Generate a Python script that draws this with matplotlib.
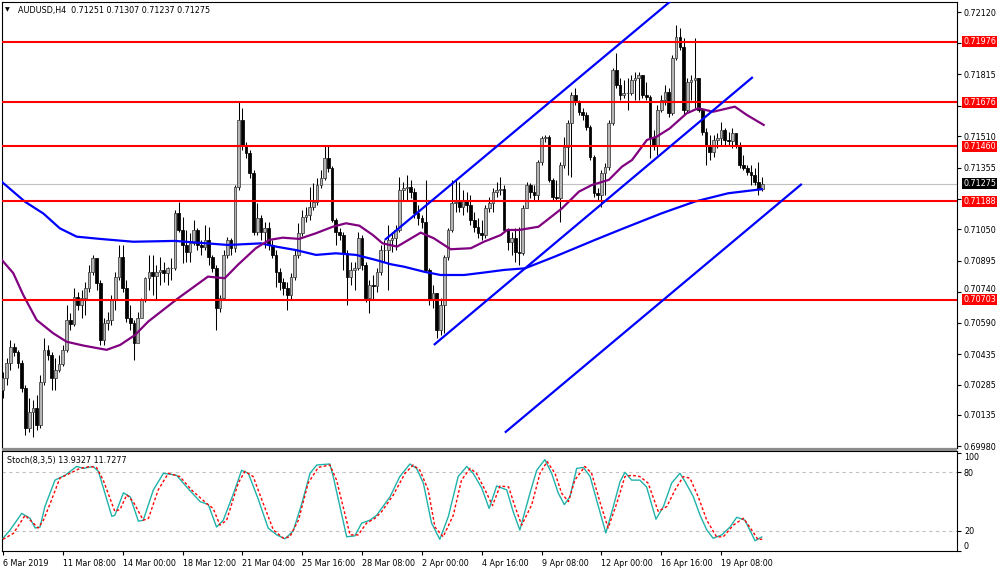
import matplotlib
matplotlib.use("Agg")
import matplotlib.pyplot as plt
from matplotlib.patches import Rectangle
import numpy as np

# AUDUSD H4 candles (bar 0 = 6 Mar 2019 00:00)
first_open = 0.70258
close = [
    0.70318, 0.70391, 0.70470, 0.70446, 0.70391, 0.70269, 0.70071, 0.70150, 0.70170, 0.70085,
    0.70298, 0.70456, 0.70431, 0.70318, 0.70357, 0.70386, 0.70456, 0.70603, 0.70583, 0.70716,
    0.70677, 0.70712, 0.70762, 0.70840, 0.70909, 0.70786, 0.70505, 0.70588, 0.70603, 0.70702,
    0.70815, 0.70913, 0.70762, 0.70614, 0.70588, 0.70490, 0.70614, 0.70702, 0.70811, 0.70840,
    0.70820, 0.70840, 0.70850, 0.70835, 0.70860, 0.70860, 0.71131, 0.71047, 0.70973, 0.70938,
    0.70983, 0.71047, 0.70973, 0.70963, 0.70998, 0.70913, 0.70860, 0.70663, 0.70712, 0.70923,
    0.70998, 0.70959, 0.71259, 0.71589, 0.71466, 0.71427, 0.71328, 0.71037, 0.71107, 0.71037,
    0.71057, 0.70973, 0.70923, 0.70840, 0.70791, 0.70762, 0.70726, 0.70815, 0.70923, 0.71032,
    0.71111, 0.71121, 0.71160, 0.71185, 0.71269, 0.71304, 0.71403, 0.71353, 0.71096, 0.71037,
    0.71022, 0.70933, 0.70815, 0.70850, 0.70860, 0.71008, 0.70874, 0.70712, 0.70776, 0.70771,
    0.70840, 0.70948, 0.70948, 0.70998, 0.71008, 0.71047, 0.71244, 0.71255, 0.71259, 0.71234,
    0.71131, 0.71107, 0.71086, 0.70850, 0.70702, 0.70736, 0.70554, 0.70677, 0.70913, 0.71047,
    0.71180, 0.71185, 0.71160, 0.71195, 0.71170, 0.71096, 0.71061, 0.71032, 0.71022, 0.71156,
    0.71180, 0.71234, 0.71244, 0.71250, 0.71047, 0.70988, 0.71008, 0.70938, 0.70933, 0.71156,
    0.71269, 0.71234, 0.71219, 0.71382, 0.71501, 0.71506, 0.71294, 0.71209, 0.71204, 0.71367,
    0.71456, 0.71574, 0.71712, 0.71678, 0.71629, 0.71614, 0.71554, 0.71407, 0.71229, 0.71219,
    0.71328, 0.71357, 0.71574, 0.71836, 0.71762, 0.71712, 0.71722, 0.71722, 0.71787, 0.71797,
    0.71811, 0.71712, 0.71702, 0.71501, 0.71466, 0.71639, 0.71688, 0.71727, 0.71624, 0.71896,
    0.71998, 0.71949, 0.71639, 0.71777, 0.71787, 0.71797, 0.71639, 0.71530, 0.71466, 0.71432,
    0.71491, 0.71501, 0.71540, 0.71491, 0.71486, 0.71525, 0.71466, 0.71367, 0.71353, 0.71333,
    0.71318, 0.71284, 0.71251, 0.71275]
high = [
    0.70347, 0.70417, 0.70505, 0.70490, 0.70456, 0.70406, 0.70283, 0.70219, 0.70209, 0.70233,
    0.70332, 0.70515, 0.70480, 0.70446, 0.70417, 0.70431, 0.70480, 0.70677, 0.70638, 0.70762,
    0.70741, 0.70751, 0.70791, 0.70874, 0.70923, 0.70909, 0.70801, 0.70614, 0.70643, 0.70726,
    0.70840, 0.70973, 0.70973, 0.70801, 0.70677, 0.70603, 0.70643, 0.70712, 0.70815, 0.70923,
    0.70923, 0.70874, 0.70913, 0.70889, 0.70864, 0.70909, 0.71146, 0.71185, 0.71111, 0.71047,
    0.71032, 0.71096, 0.71057, 0.70998, 0.71071, 0.71061, 0.70923, 0.70874, 0.70726, 0.70948,
    0.71012, 0.71008, 0.71269, 0.71678, 0.71649, 0.71481, 0.71442, 0.71343, 0.71180, 0.71121,
    0.71086, 0.71086, 0.70998, 0.70948, 0.70860, 0.70811, 0.70791, 0.70835, 0.70948, 0.71081,
    0.71146, 0.71160, 0.71259, 0.71279, 0.71304, 0.71343, 0.71466, 0.71466, 0.71362, 0.71107,
    0.71057, 0.71037, 0.70948, 0.70889, 0.70889, 0.71037, 0.71022, 0.70889, 0.70801, 0.70825,
    0.70860, 0.70973, 0.70998, 0.71071, 0.71037, 0.71071, 0.71308, 0.71284, 0.71318, 0.71294,
    0.71255, 0.71170, 0.71121, 0.71294, 0.70860, 0.70776, 0.70736, 0.70712, 0.70923, 0.71057,
    0.71294, 0.71294, 0.71284, 0.71244, 0.71234, 0.71219, 0.71136, 0.71107, 0.71096, 0.71170,
    0.71209, 0.71255, 0.71284, 0.71308, 0.71269, 0.71057, 0.71037, 0.71057, 0.71061, 0.71170,
    0.71284, 0.71279, 0.71269, 0.71392, 0.71511, 0.71516, 0.71516, 0.71304, 0.71294, 0.71382,
    0.71506, 0.71589, 0.71727, 0.71748, 0.71688, 0.71649, 0.71629, 0.71564, 0.71417, 0.71254,
    0.71343, 0.71377, 0.71589, 0.71846, 0.71920, 0.71797, 0.71787, 0.71797, 0.71811, 0.71826,
    0.71826, 0.71811, 0.71777, 0.71712, 0.71540, 0.71663, 0.71712, 0.71762, 0.71748, 0.71910,
    0.72057, 0.72042, 0.71994, 0.71797, 0.71811, 0.71994, 0.71787, 0.71649, 0.71550, 0.71516,
    0.71516, 0.71525, 0.71579, 0.71550, 0.71530, 0.71550, 0.71516, 0.71481, 0.71417, 0.71367,
    0.71367, 0.71353, 0.71382, 0.71307]
low = [
    0.70219, 0.70283, 0.70357, 0.70426, 0.70367, 0.70248, 0.70036, 0.70051, 0.70026, 0.70061,
    0.70071, 0.70283, 0.70406, 0.70258, 0.70258, 0.70347, 0.70377, 0.70446, 0.70554, 0.70574,
    0.70653, 0.70614, 0.70628, 0.70741, 0.70825, 0.70751, 0.70480, 0.70480, 0.70554, 0.70578,
    0.70653, 0.70801, 0.70741, 0.70593, 0.70554, 0.70406, 0.70578, 0.70643, 0.70692, 0.70751,
    0.70726, 0.70702, 0.70776, 0.70791, 0.70776, 0.70801, 0.70850, 0.71037, 0.70884, 0.70889,
    0.70889, 0.70973, 0.70948, 0.70923, 0.70948, 0.70874, 0.70840, 0.70554, 0.70643, 0.70702,
    0.70909, 0.70923, 0.70938, 0.71244, 0.71442, 0.71402, 0.71304, 0.71022, 0.71022, 0.70998,
    0.70959, 0.70948, 0.70909, 0.70766, 0.70751, 0.70726, 0.70653, 0.70702, 0.70801, 0.70909,
    0.71017, 0.71086, 0.71096, 0.71146, 0.71170, 0.71254, 0.71294, 0.71333, 0.71086, 0.70973,
    0.70998, 0.70850, 0.70677, 0.70776, 0.70751, 0.70850, 0.70850, 0.70692, 0.70638, 0.70702,
    0.70741, 0.70825, 0.70889, 0.70751, 0.70938, 0.70948, 0.71037, 0.71195, 0.71195, 0.71204,
    0.71107, 0.71071, 0.71057, 0.70840, 0.70677, 0.70663, 0.70515, 0.70529, 0.70539, 0.70899,
    0.71037, 0.71136, 0.71136, 0.71121, 0.71136, 0.71071, 0.71037, 0.71008, 0.70998, 0.71008,
    0.71136, 0.71136, 0.71209, 0.71219, 0.71037, 0.70948, 0.70923, 0.70889, 0.70874, 0.70923,
    0.71156, 0.71204, 0.71195, 0.71195, 0.71367, 0.71481, 0.71284, 0.71195, 0.71195, 0.71086,
    0.71353, 0.71318, 0.71308, 0.71663, 0.71614, 0.71589, 0.71540, 0.71392, 0.71209, 0.71195,
    0.71160, 0.71219, 0.71343, 0.71564, 0.71748, 0.71688, 0.71698, 0.71639, 0.71712, 0.71688,
    0.71688, 0.71698, 0.71688, 0.71402, 0.71442, 0.71417, 0.71629, 0.71663, 0.71604, 0.71614,
    0.71885, 0.71935, 0.71614, 0.71629, 0.71688, 0.71649, 0.71629, 0.71516, 0.71367, 0.71392,
    0.71407, 0.71451, 0.71466, 0.71466, 0.71461, 0.71451, 0.71451, 0.71353, 0.71343, 0.71318,
    0.71269, 0.71269, 0.71219, 0.71237]

# moving averages (purple = fast, blue = slow), sampled at bar positions
purple_bar = [-0.3, 2.75, 5.4, 9.0, 13.4, 17.0, 21.5, 27.7, 31.3, 35.3,
              38.8, 46.8, 54.8, 59.3, 62.8, 67.6, 71.2, 74.8, 79.2, 83.7,
              88.2, 91.7, 95.3, 98.9, 101.5, 105.4, 111.7, 115.2, 119.7, 125.1,
              128.6, 133.1, 134.8, 138.0, 143.2, 149.5, 154.0, 157.5, 162.0, 165.5,
              168.2, 172.2, 174.8, 178.3, 182.8, 185.9, 189.9, 195.7, 198.9, 203.4]
purple_val = [0.70899, 0.70834, 0.70727, 0.70603, 0.70538, 0.70496, 0.70477, 0.70456, 0.70480, 0.70529,
              0.70595, 0.70710, 0.70817, 0.70809, 0.70875, 0.70957, 0.70998, 0.71009, 0.71003, 0.71031,
              0.71063, 0.71080, 0.71068, 0.71022, 0.70981, 0.70965, 0.71034, 0.71006, 0.70952, 0.70957,
              0.70989, 0.71022, 0.71047, 0.71047, 0.71063, 0.71154, 0.71236, 0.71269, 0.71294, 0.71359,
              0.71392, 0.71491, 0.71507, 0.71548, 0.71622, 0.71647, 0.71630, 0.71655, 0.71614, 0.71565]
blue_bar = [-0.3, 5.9, 10.8, 15.2, 19.7, 25.9, 34.8, 46.0, 60.2, 69.0,
            73.0, 78.3, 83.7, 89.0, 94.4, 99.7, 103.7, 107.2, 112.6, 117.0,
            123.3, 128.6, 134.0, 139.6, 147.6, 158.3, 165.4, 176.1, 185.0, 193.9, 202.9]
blue_val = [0.71284, 0.71186, 0.71128, 0.71055, 0.71014, 0.71003, 0.70989, 0.70993, 0.70973, 0.70981,
            0.70965, 0.70948, 0.70924, 0.70932, 0.70924, 0.70899, 0.70878, 0.70866, 0.70841, 0.70825,
            0.70825, 0.70837, 0.70850, 0.70858, 0.70916, 0.70998, 0.71051, 0.71129, 0.71187, 0.71228, 0.71248]

# channel lines (bar, price) end points
channel_lines = [
    ([102.1, 178.9], [0.70998, 0.72181]),
    ([115.2, 200.5], [0.70480, 0.71801]),
    ([134.2, 213.6], [0.70048, 0.71274]),
]
red_levels = [0.71976, 0.71676, 0.71460, 0.71188, 0.70703]
last_price = 0.71275

# price scale; the three levels hidden behind the red labels keep their tick but no text
price_ticks = [0.72120, 0.71970, 0.71815, 0.71660, 0.71510, 0.71355, 0.71200, 0.71050,
               0.70895, 0.70740, 0.70590, 0.70435, 0.70285, 0.70135, 0.69980]
hidden_ticks = [0.71970, 0.71660, 0.71200]

# Stochastic (8,3,5): %K main and %D signal
k_bar = [0, 1.9, 5.0, 7.2, 8.6, 9.9, 11.2, 13.9, 16.6, 19.7,
         21.5, 24.1, 25.5, 29.1, 29.9, 32.2, 34.0, 36.2, 37.5, 40.2,
         42.9, 46.4, 49.1, 52.7, 54.9, 57.1, 58.9, 61.6, 63.8, 65.6,
         68.3, 70.9, 73.2, 75.4, 77.6, 79.9, 82.1, 83.9, 87.4, 88.3,
         91.9, 94.1, 95.9, 98.1, 99.9, 103.5, 106.1, 108.8, 110.6, 112.4,
         114.6, 116.8, 119.1, 121.7, 124.0, 125.7, 128.0, 130.0, 132.0,
         134.7, 136.4, 138.2, 140.9, 142.7, 144.9, 146.7, 148.5, 150.1, 151.6,
         153.4, 155.2, 157.0, 158.7, 161.2, 163.2, 165.0, 166.3, 168.1, 170.3,
         172.1, 174.6, 176.6, 178.8, 181.0, 182.4, 184.6, 186.4, 188.2, 189.9,
         192.2, 194.4, 196.2, 198.4, 201.1, 202.9]
k_val = [12.5, 21, 38, 33, 23, 24, 45, 72, 77, 86,
         84, 86, 81, 35, 36, 59, 55, 30, 31, 62,
         79, 77, 65, 50, 47, 24, 31, 58, 82, 79,
         52, 23, 16, 12, 20, 48, 79, 87.5, 88.5, 75.6,
         14, 15, 28, 31, 36, 55, 75.6, 88.5, 84, 69,
         28, 11.5, 35, 75.6, 86, 79, 64, 43, 66,
         62, 40, 21, 58.5, 82, 93, 79, 58.5, 47, 55,
         84, 85, 75.6, 52, 18, 45, 70.5, 80, 72, 72,
         65, 32, 45, 69, 79, 70.5, 55, 36, 21, 12.5,
         16, 24, 34, 31, 10, 13.9]
d_bar = [0, 2.8, 5.9, 8.1, 9.4, 10.8, 12.6, 15.2, 17.9, 20.6,
         23.3, 25.0, 26.8, 29.9, 31.3, 33.1, 34.8, 37.5, 38.9, 41.5,
         44.2, 47.3, 50.4, 54.5, 56.2, 58.0, 59.8, 62.9, 64.7, 66.9,
         69.6, 72.3, 75.0, 76.7, 79.0, 81.6, 84.3, 87.4, 89.2, 92.8,
         95.0, 97.2, 99.5, 101.3, 104.4, 107.5, 109.7, 111.5, 113.7, 115.5,
         117.7, 120.4, 122.6, 124.9, 126.6, 128.9, 130.9, 132.9, 135.2, 136.9,
         138.7, 141.4, 143.6, 145.5, 147.6, 149.4, 151.2, 152.9, 155.6, 157.4,
         159.6, 161.8, 164.1, 166.3, 168.1, 170.3, 172.5, 175.2, 177.5, 179.7,
         181.9, 183.7, 185.9, 188.2, 190.8, 192.6, 195.3, 198.0, 200.2, 201.9, 203.0]
d_val = [11.5, 17.6, 36, 28, 23, 31, 48, 74, 79, 84,
         86, 85, 72, 40, 42, 57, 50, 31, 33, 62,
         79, 75.6, 62, 48, 43, 26, 31, 69, 81, 75.6,
         48, 21, 12.5, 14, 31, 69, 85, 87.5, 72, 16,
         16, 28, 33, 40, 57, 79, 87.5, 82, 62, 24,
         14, 36, 72, 84, 79, 62, 46, 66, 65, 45,
         26, 47, 79, 91, 79, 58.5, 50, 72, 86, 79,
         50, 23, 48, 75.6, 77, 75.6, 69, 40, 45, 62,
         75.6, 74, 55, 31, 14, 14, 26, 33, 21, 11, 11.7]

time_ticks = [0, 16, 32, 48, 64, 80, 96, 112, 128, 144, 160, 176, 192]
time_labels = ["6 Mar 2019", "11 Mar 08:00", "14 Mar 00:00", "18 Mar 12:00", "21 Mar 04:00",
               "25 Mar 16:00", "28 Mar 08:00", "2 Apr 00:00", "4 Apr 16:00", "9 Apr 08:00",
               "12 Apr 00:00", "16 Apr 16:00", "19 Apr 08:00"]

FS = 5.8
W, H = 1000, 571


def px_box(l, t, r, b):
    return [l / W, 1 - b / H, (r - l) / W, (b - t) / H]


fig = plt.figure(figsize=(W / 100, H / 100), dpi=100)
fig.patch.set_facecolor("white")
ax = fig.add_axes(px_box(2, 2, 957, 448))
axs = fig.add_axes(px_box(2, 451, 957, 551), sharex=ax)

# --- candles
close = np.array(close)
high = np.array(high)
low = np.array(low)
opens = np.r_[first_open, close[:-1]]
idx = np.arange(len(close))
up = close >= opens
bottom = np.minimum(opens, close)
height = np.maximum(np.abs(close - opens), 0.000015)

ax.vlines(idx, low, high, color="black", lw=0.75, zorder=3)
ax.bar(idx[up], height[up], bottom=bottom[up], width=0.72, color="#b4b4b4",
       edgecolor="#3c3c3c", linewidth=0.55, zorder=4)
ax.bar(idx[~up], height[~up], bottom=bottom[~up], width=0.72, color="black",
       edgecolor="black", linewidth=0.55, zorder=4)

# indicators and objects
ax.axhline(last_price, color="#c0c0c0", lw=0.8, zorder=1)
ax.plot(blue_bar, blue_val, color="#0000ff", lw=1.6, zorder=5)
ax.plot(purple_bar, purple_val, color="#800080", lw=1.6, zorder=5)
for lv in red_levels:
    ax.axhline(lv, color="#ff0000", lw=1.5, zorder=6)
for xs, ys in channel_lines:
    ax.plot(xs, ys, color="#0000ff", lw=1.6, zorder=6, solid_capstyle="butt")

ax.set_xlim(-0.27, 255.1)
ax.set_ylim(0.69972, 0.72171)
ax.yaxis.tick_right()
ax.set_yticks(price_ticks)
plabs = ax.set_yticklabels(["" if p in hidden_ticks else f"{p:.5f}" for p in price_ticks],
                           fontsize=FS)
# 0.70740 sits just above the 0.70703 label: lift it onto its baseline
plabs[price_ticks.index(0.70740)].set_va("baseline")
ax.tick_params(axis="y", length=3, width=0.8, pad=2)
ax.tick_params(axis="x", bottom=False, labelbottom=False)

ytrans = ax.get_yaxis_transform()
for lv in red_levels:
    ax.text(1.0063, lv, f"{lv:.5f}", transform=ytrans, fontsize=FS, color="white",
            ha="left", va="center", zorder=10, clip_on=False,
            bbox=dict(boxstyle="square,pad=0.12", fc="#ff0000", ec="none"))
ax.text(1.0063, last_price, f"{last_price:.5f}", transform=ytrans, fontsize=FS,
        color="white", ha="left", va="center", zorder=10, clip_on=False,
        bbox=dict(boxstyle="square,pad=0.12", fc="black", ec="none"))

# --- stochastic panel
axs.axhline(80, color="#c0c0c0", lw=0.8, ls=(0, (3, 3)), zorder=1)
axs.axhline(20, color="#c0c0c0", lw=0.8, ls=(0, (3, 3)), zorder=1)
axs.plot(k_bar, k_val, color="#20b2aa", lw=1.0, zorder=3)
axs.plot(d_bar, d_val, color="#ff0000", lw=1.0, ls=(0, (2, 1.6)), zorder=4)
axs.set_ylim(-0.5, 101.8)
axs.yaxis.tick_right()
axs.set_yticks([0, 20, 80, 100])
labs = axs.set_yticklabels(["0", "20", "80", "100"], fontsize=FS)
labs[0].set_va("bottom")
labs[3].set_va("top")
axs.tick_params(axis="y", length=3, width=0.8, pad=2)
axs.set_xticks(time_ticks)
axs.set_xticklabels(time_labels, fontsize=FS, ha="left")
axs.tick_params(axis="x", length=3, width=0.8, pad=3)

for a in (ax, axs):
    for s in a.spines.values():
        s.set_color("black")
        s.set_linewidth(0.8)

# panel separator
fig.patches.append(Rectangle((2 / W, 1 - 451 / H), 955 / W, 3 / H, transform=fig.transFigure,
                             facecolor="#8c8c8c", edgecolor="none", zorder=5))

# headers
fig.text(5 / W, 1 - 10 / H, "\u25bc", fontsize=4.5, va="center", ha="left")
fig.text(18 / W, 1 - 10 / H, "AUDUSD,H4  0.71251 0.71307 0.71237 0.71275",
         fontsize=FS, va="center", ha="left")
fig.text(7 / W, 1 - 460 / H, "Stoch(8,3,5) 13.9327 11.7277", fontsize=FS,
         va="center", ha="left")

fig.savefig("out.png", dpi=100, facecolor="white")
